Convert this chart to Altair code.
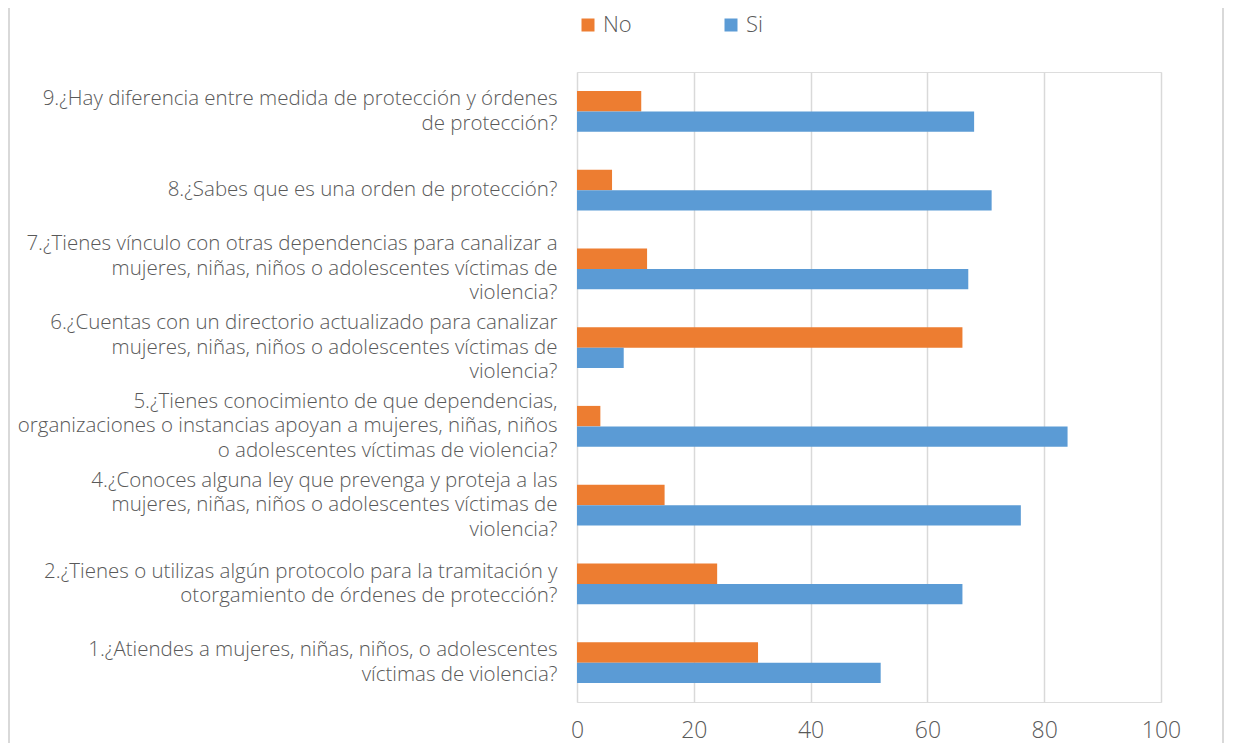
import altair as alt
import pandas as pd

preguntas = [
    "9.¿Hay diferencia entre medida de protección y órdenes|de protección?",
    "8.¿Sabes que es una orden de protección?",
    "7.¿Tienes vínculo con otras dependencias para canalizar a|mujeres, niñas, niños o adolescentes víctimas de|violencia?",
    "6.¿Cuentas con un directorio actualizado para canalizar|mujeres, niñas, niños o adolescentes víctimas de|violencia?",
    "5.¿Tienes conocimiento de que dependencias,|organizaciones o instancias apoyan a mujeres, niñas, niños|o adolescentes víctimas de violencia?",
    "4.¿Conoces alguna ley que prevenga y proteja a las|mujeres, niñas, niños o adolescentes víctimas de|violencia?",
    "2.¿Tienes o utilizas algún protocolo para la tramitación y|otorgamiento de órdenes de protección?",
    "1.¿Atiendes a mujeres, niñas, niños, o adolescentes|víctimas de violencia?",
]
no_vals = [11, 6, 12, 66, 4, 15, 24, 31]
si_vals = [68, 71, 67, 8, 84, 76, 66, 52]
series = ["No", "Si"]
colors = ["#ED7D31", "#5B9BD5"]
x_ticks = [0, 20, 40, 60, 80, 100]

rows = []
for q, n, s in zip(preguntas, no_vals, si_vals):
    rows.append({"pregunta": q, "serie": "No", "valor": n})
    rows.append({"pregunta": q, "serie": "Si", "valor": s})
df = pd.DataFrame(rows)

FONT = "Open Sans"
TXT = "#595959"
LH = 24.5

nlines = "length(split(datum.label, '|'))"
label_offset = {
    "condition": [
        {"test": f"{nlines} == 3", "value": -LH},
        {"test": f"{nlines} == 2", "value": -LH / 2},
    ],
    "value": 0,
}

bars = alt.Chart(df).mark_bar().encode(
    x=alt.X("valor:Q",
            scale=alt.Scale(domain=[0, 100], nice=False),
            axis=alt.Axis(values=x_ticks, title=None, domain=False, ticks=False,
                          grid=True, gridColor="#D9D9D9", gridWidth=1.5,
                          labelFontSize=23, labelColor=TXT, labelFont=FONT,
                          labelFontWeight=300, labelFlush=False,
                          labelPadding=17)),
    y=alt.Y("pregunta:N", sort=preguntas,
            scale=alt.Scale(paddingInner=0.48, paddingOuter=0.24),
            axis=alt.Axis(title=None, domain=False, ticks=False, grid=False,
                          labelExpr="split(datum.label, '|')",
                          labelFontSize=20.5, labelLineHeight=LH, labelColor=TXT,
                          labelFont=FONT, labelFontWeight=300,
                          labelLimit=0, labelPadding=20,
                          labelOffset=label_offset,
                          labelAlign="right")),
    yOffset=alt.YOffset("serie:N", sort=series),
    color=alt.Color("serie:N",
                    scale=alt.Scale(domain=series, range=colors),
                    legend=alt.Legend(title=None, orient="none", direction="horizontal",
                                      legendX=0, legendY=-58,
                                      symbolType="square", symbolSize=169,
                                      symbolStrokeWidth=0, labelFontSize=22,
                                      labelColor=TXT, labelFont=FONT,
                                      labelFontWeight=300,
                                      labelOffset=4, columnPadding=88)),
)

left_edge = alt.Chart(df).mark_rule(color="#D9D9D9", strokeWidth=2).encode(
    x=alt.value(-568), y=alt.value(-64), y2=alt.value(712))
right_edge = alt.Chart(df).mark_rule(color="#D9D9D9", strokeWidth=2).encode(
    x=alt.value(646), y=alt.value(-64), y2=alt.value(712))

chart = alt.layer(bars, left_edge, right_edge).properties(
    width=584, height=630,
    autosize=alt.AutoSizeParams(type="none"),
    padding={"left": 569, "top": 64, "right": 72, "bottom": 41},
).configure_view(stroke=None).configure(font=FONT)

chart.save("out.html", embed_options={"renderer": "svg", "actions": False})
